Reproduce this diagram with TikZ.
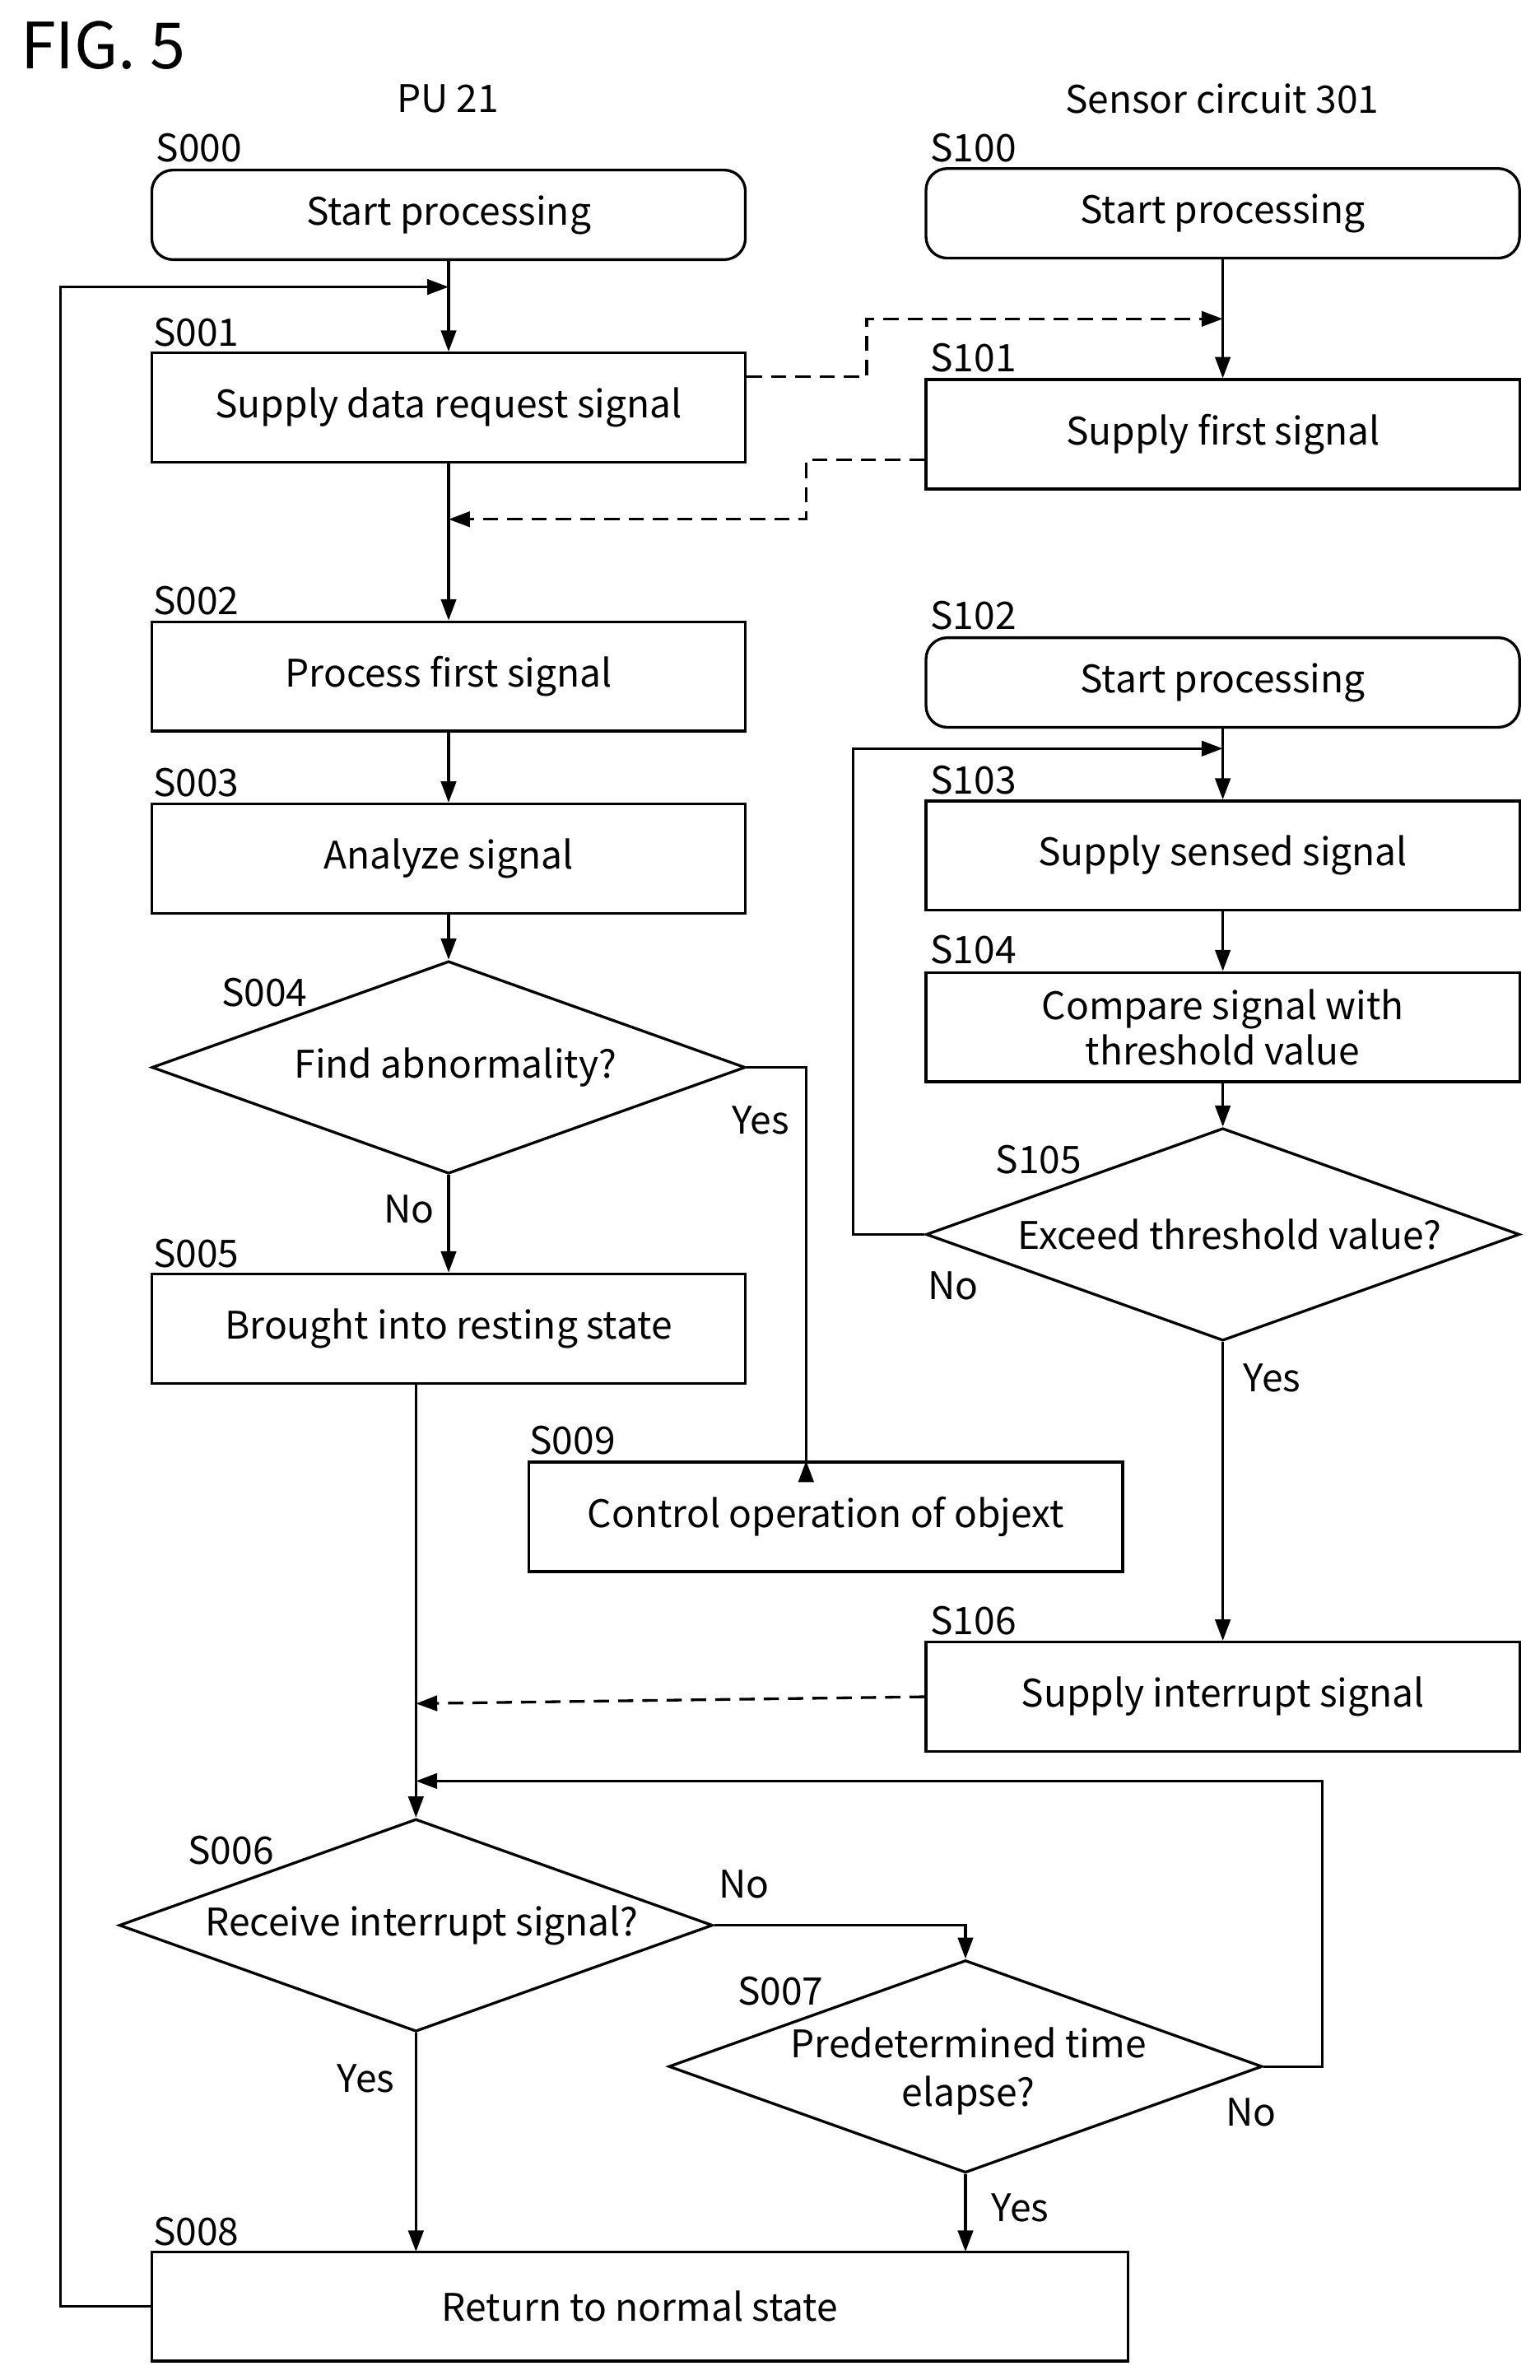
\documentclass[tikz,border=0pt]{standalone}
\usepackage{fontspec}
\setmainfont{Noto Sans CJK JP}
\usetikzlibrary{shapes.geometric,arrows.meta}
\begin{document}
\begin{tikzpicture}[x=0.5pt,y=-0.5pt,line width=0.9pt,
  font=\fontsize{12.5}{14}\selectfont,
  box/.style={draw,rectangle,minimum width=195.5pt,minimum height=36pt,inner sep=0pt,align=center},
  rbox/.style={box,rounded corners=7pt,minimum height=29.5pt},
  dia/.style={draw,diamond,minimum width=195.5pt,minimum height=70pt,inner sep=0pt},
  lab/.style={anchor=south west,inner sep=0pt},
  arr/.style={-{Triangle[length=7pt,width=5pt]}},
  dsh/.style={arr,dash pattern=on 5pt off 3pt}]
\useasboundingbox (0,0) rectangle (1014,1567.5);
\node[anchor=west,font=\fontsize{21}{24}\selectfont] (fig) at (6,30) {FIG. 5};
\node (pu) at (295,65) {PU 21};
\node (sc) at (805,65) {Sensor circuit 301};
% left column
\node[rbox] (s000) at (295.5,141.5) {Start processing};
\node[box] (s001) at (295.5,268.5) {Supply data request signal};
\node[box] (s002) at (295.5,445.5) {Process first signal};
\node[box] (s003) at (295.5,565.5) {Analyze signal};
\node[dia] (s004) at (295.5,703) {};
\node (t004) at (300,703) {Find abnormality?};
\node[box] (s005) at (295.5,875) {Brought into resting state};
\node[box] (s009) at (544,999) {Control operation of objext};
\node[dia] (s006) at (274,1268) {};
\node (t006) at (278,1268) {Receive interrupt signal?};
\node[dia] (s007) at (636,1361) {};
\node[align=center,font=\fontsize{12.5}{16}\selectfont] (t007) at (638,1364) {Predetermined time\\elapse?};
\node[box,minimum width=321.5pt] (s008) at (421.5,1519) {Return to normal state};
% right column
\node[rbox] (s100) at (805.5,140.5) {Start processing};
\node[box] (s101) at (805.5,286) {Supply first signal};
\node[rbox] (s102) at (805.5,449.5) {Start processing};
\node[box] (s103) at (805.5,563.5) {Supply sensed signal};
\node[box,align=center,font=\fontsize{12.5}{15}\selectfont] (s104) at (805.5,676.5) {Compare signal with\\threshold value};
\node[dia] (s105) at (805.5,813) {};
\node (t105) at (810,813) {Exceed threshold value?};
\node[box] (s106) at (805.5,1117.5) {Supply interrupt signal};
% step labels
\foreach \n/\x/\y in {S000/102/108,S001/100/229,S002/100/406,S003/100/526,S004/145/664,S005/100/836,S009/348/959,S006/123/1229,S007/485/1322,S008/100/1480,S100/612/108,S101/612/246,S102/612/416,S103/612/524,S104/612/636,S105/655/774,S106/612/1078}
  \node[lab] (l\n) at (\x,\y) {\n};
% coordinates
\coordinate (j1) at (295.5,189);
\coordinate (j2) at (805.5,210);
\coordinate (j3) at (295.5,342);
\coordinate (j4) at (805.5,493);
\coordinate (j5) at (274,1122);
\coordinate (j6) at (274,1173);
% connectors
\draw[arr] (s000) -- (s001);
\draw[arr] (s008.west) -- (40,1519) -- (40,189) -- (j1);
\draw[dsh] (s001.east |- 0,248) -- (571,248) -- (571,210) -- (j2);
\draw[arr] (s100) -- (s101);
\draw[dsh] (s101.west |- 0,303) -- (531,303) -- (531,342) -- (j3);
\draw[arr] (s001) -- (s002);
\draw[arr] (s002) -- (s003);
\draw[arr] (s003) -- (s004);
\draw[arr] (s004.east) -- (531,703) -- (531,963) -- (531,963 |- s009.north);
\node (yes1) at (501,738) {Yes};
\draw[arr] (s004) -- (s005) node[pos=0.35,left=1pt] (no1) {No};
\draw[arr] (s102) -- (s103);
\draw[arr] (s105.west) -- (562,813) -- (562,493) -- (j4);
\node (no2) at (628,847) {No};
\draw[arr] (s103) -- (s104);
\draw[arr] (s104) -- (s105);
\draw[arr] (s105) -- (s106) node[pos=0.12,right=3pt] (yes2) {Yes};
\draw[arr] (274,911) -- (s006.north);
\draw[dsh] (s106.west) -- (j5);
\draw[arr] (s006.east) -- (636,1268) -- (s007.north);
\node (no3) at (490,1241) {No};
\draw[arr] (s007.east) -- (871,1361) -- (871,1173) -- (j6);
\node (no4) at (824,1391) {No};
\draw[arr] (s006.south) -- (274,1483);
\node (yes3) at (241,1369) {Yes};
\draw[arr] (s007.south) -- (636,1483);
\node (yes4) at (672,1454) {Yes};
\end{tikzpicture}
\end{document}
